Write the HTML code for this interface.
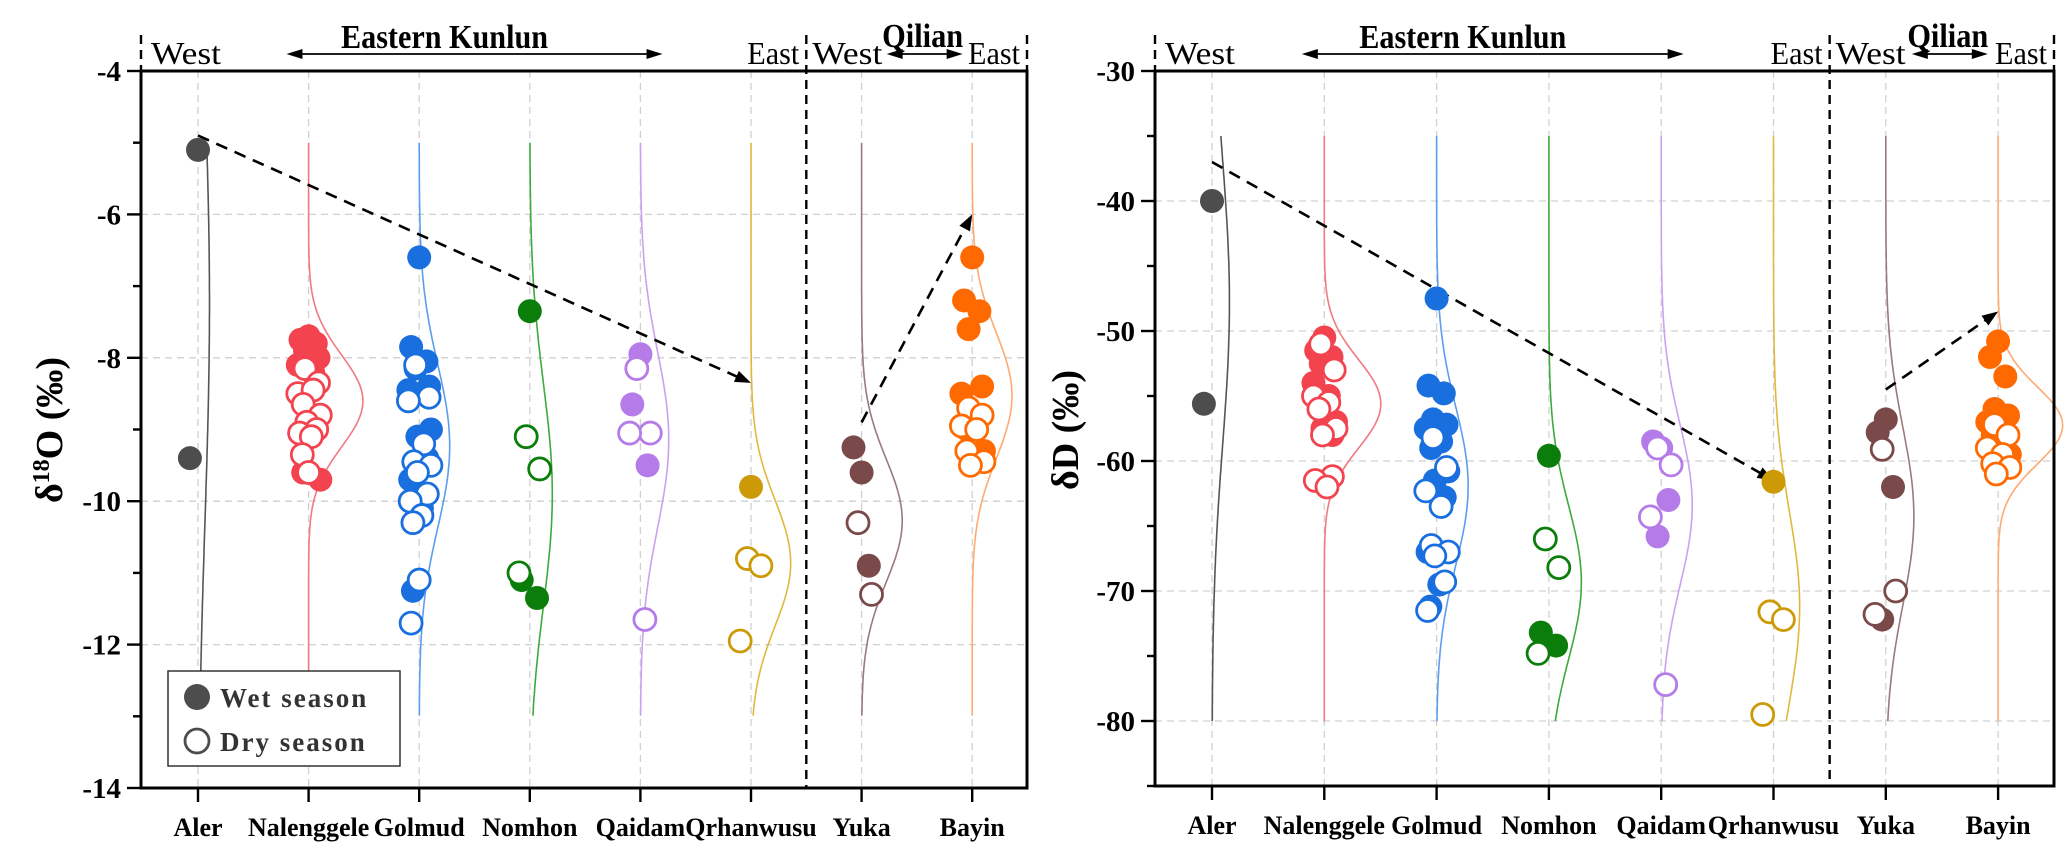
<!DOCTYPE html>
<html><head><meta charset="utf-8"><style>
html,body{margin:0;padding:0;background:#fff}
svg{display:block}
text{font-family:"Liberation Serif",serif}
</style></head><body>
<svg id="chart" xmlns="http://www.w3.org/2000/svg" width="2067" height="856" viewBox="0 0 2067 856"></svg>
<script>
const categories = ["Aler","Nalenggele","Golmud","Nomhon","Qaidam","Qrhanwusu","Yuka","Bayin"];
const colors = ["#4d4d4d","#f2434f","#1a6fdf","#0b7d0b","#b57be8","#cc9a06","#7a4a4a","#ff6a00"];
const curveColors = ["#555555","#f07a80","#5b9ef0","#3cab3c","#c9a2f0","#e0b840","#9a7a7a","#ffaa70"];
// delta 18O values
const o18Wet = [[-5.1,-9.4],[-7.7,-7.75,-7.8,-7.9,-8.0,-8.1,-8.2,-9.6,-9.7],[-6.6,-7.85,-8.05,-8.15,-8.4,-8.45,-8.5,-8.5,-9.0,-9.1,-9.4,-9.7,-10.1,-11.25],[-7.35,-11.1,-11.35],[-7.95,-8.65,-9.5],[-9.8],[-9.6,-9.25,-10.9],[-6.6,-7.2,-7.35,-7.6,-8.4,-8.5,-8.8,-9.0,-9.3]];
const o18Dry = [[],[-8.15,-8.35,-8.5,-8.45,-8.65,-8.8,-8.9,-9.0,-9.05,-9.1,-9.35,-9.6],[-8.1,-8.55,-8.6,-9.2,-9.45,-9.5,-9.6,-9.9,-10.0,-10.2,-10.3,-11.1,-11.7],[-9.1,-9.55,-11.0],[-8.15,-9.05,-9.05,-11.65],[-10.8,-10.9,-11.95],[-10.3,-11.3],[-8.7,-8.8,-8.95,-9.0,-9.3,-9.45,-9.5]];
// delta D values
const dWet = [[-40,-55.6],[-50.5,-51.5,-52,-52.5,-53,-54,-55,-56,-57,-57.5,-58],[-47.5,-54.2,-54.8,-56.8,-57.2,-57.5,-58.5,-59,-60.8,-61.5,-62.8,-67,-69.5,-71.2],[-59.6,-73.2,-74.2],[-59,-58.5,-63,-65.8],[-61.6],[-56.8,-57.8,-62,-72.2],[-50.8,-52,-53.5,-56,-56.5,-57,-57.5,-58,-59.5]];
const dDry = [[],[-51,-53,-55,-55.5,-56,-57.5,-58,-61.2,-61.5,-62],[-58.2,-60.5,-62.3,-63.5,-66.5,-67,-67.3,-69.3,-71.5],[-66,-68.2,-74.8],[-59,-60.3,-64.3,-77.2],[-71.6,-72.2,-79.5],[-59.1,-70,-71.8],[-57.2,-58,-59,-59.5,-60.2,-60.5,-61]];
const o18Ticks = [-4,-6,-8,-10,-12,-14];
const dTicks = [-30,-40,-50,-60,-70,-80];

const NS="http://www.w3.org/2000/svg";
const svg=document.getElementById('chart');
function mk(tag,attrs,parent){const e=document.createElementNS(NS,tag);for(const k in attrs)e.setAttribute(k,attrs[k]);(parent||svg).appendChild(e);return e;}

function panel(cfg){
  const g=mk('g',{});
  
  
  const L=cfg.left,R=cfg.right,T=71,B=cfg.bottom;
  const X=i=>cfg.x0+i*cfg.dx;
  const Y=v=>T+(cfg.ymax-v)/(cfg.ymax-cfg.ymin)*(B-T);
  cfg.ticks.forEach(t=>{ if(t!==cfg.ymax&&t!==cfg.ymin){const l=mk('line',{x1:L,x2:R,y1:Y(t),y2:Y(t),stroke:'#d0d0d0','stroke-width':1.3,'stroke-dasharray':'7 5'},g);
    }});
  categories.forEach((c,i)=>{const l=mk('line',{x1:X(i),x2:X(i),y1:T,y2:B,stroke:'#d0d0d0','stroke-width':1.3,'stroke-dasharray':'7 5'},g);
    });
  categories.forEach((c,i)=>{
    const vals=cfg.wet[i].concat(cfg.dry[i]);
    const m=vals.reduce((a,b)=>a+b,0)/vals.length;
    const sd=Math.sqrt(vals.reduce((a,b)=>a+(b-m)*(b-m),0)/Math.max(1,vals.length-1))||1;
    const sdpx=sd*(B-T)/(cfg.ymax-cfg.ymin);
    let d='';
    for(let y=Y(cfg.ctop);y<=Y(cfg.cbot)+0.1;y+=3){
      const z=(y-Y(m))/sdpx;
      const x=X(i)+2500/sdpx*Math.exp(-0.5*z*z);
      d+=(d?'L':'M')+x.toFixed(1)+' '+y.toFixed(1);
    }
    const p=mk('path',{d:d,fill:'none',stroke:curveColors[i],'stroke-width':1.6},g);
    
    
  });
  cfg.arrows.forEach(a=>{
    const x1=X(a[0]),y1=Y(a[1]),x2=X(a[2]),y2=Y(a[3]);
    const ang=Math.atan2(y2-y1,x2-x1);
    const l=mk('line',{x1:x1,y1:y1,x2:x2-10*Math.cos(ang),y2:y2-10*Math.sin(ang),stroke:'#000','stroke-width':2.6,'stroke-dasharray':'12 8'},g);
    
    const s=16,w=6;
    const pts=[[x2,y2],[x2-s*Math.cos(ang)+w*Math.sin(ang),y2-s*Math.sin(ang)-w*Math.cos(ang)],[x2-s*Math.cos(ang)-w*Math.sin(ang),y2-s*Math.sin(ang)+w*Math.cos(ang)]];
    const h=mk('polygon',{points:pts.map(p=>p.join(',')).join(' '),fill:'#000'},g);
    
  });
  const jit=[0,-9,8,-4,11,-12,5,-6,13,-2,9,-10,3,-7];
  categories.forEach((c,i)=>{
    cfg.wet[i].forEach((v,j)=>{const e=mk('circle',{cx:X(i)+jit[j%14]*0.9,cy:Y(v),r:12,fill:colors[i]},g);
      });
    cfg.dry[i].forEach((v,j)=>{const e=mk('circle',{cx:X(i)+jit[(j+3)%14]*0.9,cy:Y(v),r:11,fill:'#fff',stroke:colors[i],'stroke-width':2.8},g);
      });
  });
  const f=mk('rect',{x:L,y:T,width:R-L,height:B-T,fill:'none',stroke:'#000','stroke-width':3},g);
  
  const dv=X(5.5);
  const dl=mk('line',{x1:dv,x2:dv,y1:35,y2:B,stroke:'#000','stroke-width':2.4,'stroke-dasharray':'9 6'},g);
  
  [L,R].forEach(x=>{const h=mk('line',{x1:x,x2:x,y1:35,y2:T,stroke:'#000','stroke-width':2.4,'stroke-dasharray':'9 6'},g);
    });
  const step=cfg.ticks[0]-cfg.ticks[1];
  for(let v=cfg.ymax;v>=cfg.ymin-0.01;v-=step/2){
    const major=Math.abs(((cfg.ymax-v)/step)-Math.round((cfg.ymax-v)/step))<0.01;
    const t=mk('line',{x1:L-(major?14:8),x2:L,y1:Y(v),y2:Y(v),stroke:'#000','stroke-width':2.4},g);
    
  }
  cfg.ticks.forEach(v=>{const t=mk('text',{x:L-20,y:Y(v)+10,'text-anchor':'end','font-size':29,'font-weight':'bold'},g);t.textContent=v;
    });
  categories.forEach((c,i)=>{
    const t=mk('line',{x1:X(i),x2:X(i),y1:B,y2:B+14,stroke:'#000','stroke-width':2.4},g);
    
    const lb=mk('text',{x:X(i),y:B+48,'text-anchor':'middle','font-size':26,'font-weight':'bold'},g);lb.textContent=c;
    
  });
  function txt(x,y,s,size,bold,anchor,name,len){const a={x:x,y:y,'font-size':size,'font-weight':bold?'bold':'normal','text-anchor':anchor};
    if(len){a.textLength=len;a.lengthAdjust='spacingAndGlyphs';}
    const t=mk('text',a,g);t.textContent=s;
    return t;}
  function harrow(x1,x2,y){const l=mk('line',{x1:x1+14,x2:x2-14,y1:y,y2:y,stroke:'#000','stroke-width':1.8},g);
    
    [[x1,1],[x2,-1]].forEach(([x,s])=>{const p=mk('polygon',{points:`${x},${y} ${x+s*16},${y-5} ${x+s*16},${y+5}`,fill:'#000'},g);
      });}
  txt(L+10,64,'West',32,false,'start','west-label',70);
  txt(X(2.5)-30,48,'Eastern Kunlun',34,true,'middle','eastern-kunlun-label',207);
  harrow(X(0.8),X(4.2),54);
  txt(dv-7,64,'East',32,false,'end','east-label',52);
  txt(dv+6,64,'West',32,false,'start','qilian-west-label',70);
  txt(R-7,64,'East',32,false,'end','qilian-east-label',52);
  txt((dv+R)/2+6,47,'Qilian',34,true,'middle','qilian-label',81);
  harrow((dv+R)/2-30,(dv+R)/2+46,54);
  const yt=mk('text',{transform:`translate(${cfg.titleX},430) rotate(-90)`,'text-anchor':'middle','font-size':38,'font-weight':'bold'},g);
  
  yt.innerHTML=cfg.title;
  return {X,Y,g};
}

panel({name:'d18o-panel',left:141,right:1027,bottom:788,x0:198,dx:110.6,ymax:-4,ymin:-14,ticks:o18Ticks,ctop:-5,cbot:-13,wet:o18Wet,dry:o18Dry,
  arrows:[[0,-4.9,5,-8.35],[6,-8.9,7,-6.0]],titleX:62,title:'δ<tspan dy="-13" font-size="24">18</tspan><tspan dy="13">O (‰)</tspan>'});
panel({name:'dd-panel',left:1155,right:2054,bottom:786,x0:1212,dx:112.3,ymax:-30,ymin:-85,ticks:dTicks,ctop:-35,cbot:-80,wet:dWet,dry:dDry,
  arrows:[[0,-37,5,-61.5],[6,-54.5,7,-48.5]],titleX:1078,title:'δD (‰)'});

const lg=mk('g',{});


mk('rect',{x:168,y:671,width:232,height:95,fill:'#fff',stroke:'#333','stroke-width':1.5},lg);
const e1=mk('circle',{cx:197,cy:697,r:13,fill:'#4d4d4d'},lg);

const e2=mk('circle',{cx:197,cy:741,r:12,fill:'#fff',stroke:'#4d4d4d','stroke-width':2.8},lg);

const t1=mk('text',{x:220,y:707,'font-size':27,'font-weight':'bold','letter-spacing':2,fill:'#333'},lg);t1.textContent='Wet season';

const t2=mk('text',{x:220,y:751,'font-size':27,'font-weight':'bold','letter-spacing':2,fill:'#333'},lg);t2.textContent='Dry season';

</script>
</body></html>
